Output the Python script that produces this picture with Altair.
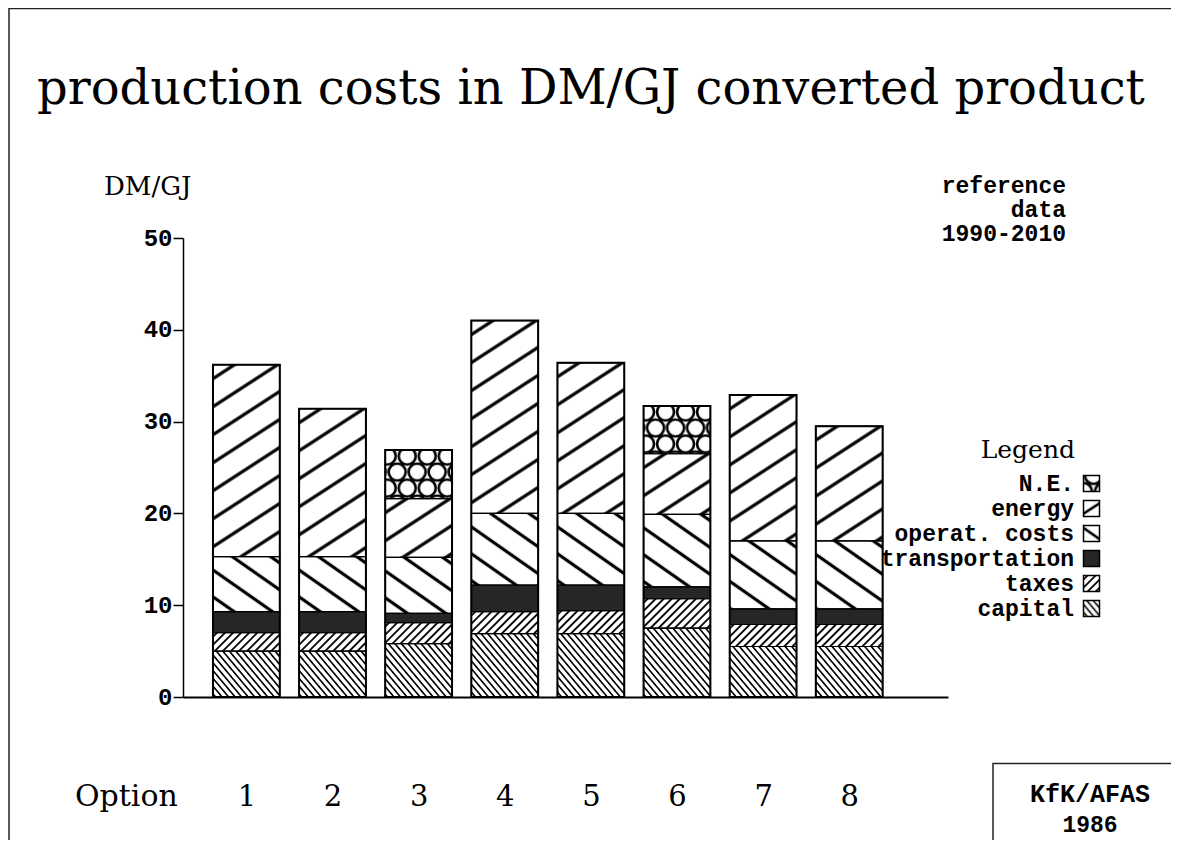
import math
import altair as alt
import pandas as pd
from urllib.parse import quote

# ---------------- data ----------------
options = [1, 2, 3, 4, 5, 6, 7, 8]
categories = ["capital", "taxes", "transportation", "operat. costs", "energy", "N.E."]
capital = [5.0, 5.0, 5.8, 6.9, 6.9, 7.5, 5.5, 5.5]
taxes = [2.0, 2.0, 2.3, 2.4, 2.5, 3.2, 2.4, 2.4]
transportation = [2.3, 2.3, 1.0, 2.9, 2.8, 1.3, 1.7, 1.7]
operat_costs = [6.0, 6.0, 6.1, 7.8, 7.8, 7.9, 7.4, 7.4]
energy = [20.9, 16.1, 6.4, 21.0, 16.4, 6.6, 15.9, 12.5]
ne = [0.0, 0.0, 5.3, 0.0, 0.0, 5.2, 0.0, 0.0]
y_ticks = [0, 10, 20, 30, 40, 50]

series = [capital, taxes, transportation, operat_costs, energy, ne]

rows = []
for i, opt in enumerate(options):
    for j, cat in enumerate(categories):
        rows.append({"option": opt, "category": cat, "order": j, "value": series[j][i]})
df = pd.DataFrame(rows)

# ---------------- hatch patterns (styles) ----------------
def hatch(angle, spacing, width, center=None):
    tf = f"rotate({angle})"
    if center is not None:
        a = math.radians(angle)
        ty = center - (spacing / 2 + center * math.sin(a)) / math.cos(a)
        tf = f"translate(0,{ty:.2f}) rotate({angle})"
    return (f'<pattern id="p" patternUnits="userSpaceOnUse" width="{spacing}" height="{spacing}" '
            f'patternTransform="{tf}"><rect x="0" y="{spacing/2 - width/2}" '
            f'width="{spacing}" height="{width}" fill="black"/></pattern>')

def circles(tx, ty):
    circ = "".join(
        f'<circle cx="{cx}" cy="{cy}" r="8.5" fill="none" stroke="black" stroke-width="2.6"/>'
        for cx, cy in [(0, 0), (20, 0), (0, 32), (20, 32), (10, 16)]
    )
    return (f'<pattern id="p" patternUnits="userSpaceOnUse" width="20" height="32" '
            f'patternTransform="translate({tx},{ty})">{circ}</pattern>')

def svg_url(pat, bg="white"):
    body = f'<rect width="100%" height="100%" fill="{bg}"/>'
    if pat:
        body += '<rect width="100%" height="100%" fill="url(#p)"/>'
    svg = (f'<svg xmlns="http://www.w3.org/2000/svg" width="100%" height="100%">'
           f'<defs>{pat}</defs>{body}</svg>')
    return "data:image/svg+xml;charset=utf-8," + quote(svg, safe="")

pattern_urls = {
    "capital": svg_url(hatch(50, 5.0, 1.6)),
    "taxes": svg_url(hatch(-45, 5.7, 1.8)),
    "transportation": svg_url("", "#262626"),
    "operat. costs": svg_url(hatch(35, 22, 3.2)),
    "energy": svg_url(hatch(-33, 23.5, 3.2)),
    "N.E.": svg_url(circles(2, 6)),
}
legend_urls = {
    "capital": svg_url(hatch(50, 5.0, 1.6)),
    "taxes": svg_url(hatch(-45, 5.7, 1.8)),
    "transportation": svg_url("", "#262626"),
    "operat. costs": svg_url(hatch(35, 22, 2.6, center=8)),
    "energy": svg_url(hatch(-33, 23.5, 2.6, center=8)),
    "N.E.": svg_url(circles(-10, 0)),
}
pattern_df = pd.DataFrame({"category": list(pattern_urls.keys()), "url": list(pattern_urls.values())})
legend_url_df = pd.DataFrame({"category": list(legend_urls.keys()), "url": list(legend_urls.values())})

# ---------------- scales / axes ----------------
XDOM = [0.264, 9.147]
HALF = 0.388

def X(field):
    return alt.X(field, scale=alt.Scale(domain=XDOM, nice=False, zero=False),
                 axis=alt.Axis(values=options, format="d", ticks=False, title=None, grid=False,
                               labelPadding=99, labelFontSize=29, labelFont="DejaVu Serif",
                               labelBaseline="middle", labelColor="black",
                               domainWidth=2, domainColor="black"))

def Y(field):
    return alt.Y(field, scale=alt.Scale(domain=[0, 50], nice=False),
                 axis=alt.Axis(values=y_ticks, title=None, grid=False, tickSize=10, tickWidth=1.5,
                               tickColor="black", domainColor="black", domainWidth=1.5,
                               labelFont="Liberation Mono", labelFontWeight="bold", labelFontSize=24,
                               labelPadding=1, labelColor="black"))

base = (alt.Chart(df)
        .transform_filter("datum.value > 0")
        .transform_stack(stack="value", groupby=["option"], as_=["y_lo", "y_hi"],
                         sort=[alt.SortField("order", "ascending")])
        .transform_calculate(x_lo=f"datum.option - {HALF}", x_hi=f"datum.option + {HALF}")
        .transform_lookup(lookup="category", from_=alt.LookupData(pattern_df, "category", ["url"])))

seg_white = base.mark_rect(fill="white").encode(x=X("x_lo:Q"), x2="x_hi:Q", y=Y("y_lo:Q"), y2="y_hi:Q")
seg_img = base.mark_image(aspect=False).encode(x=X("x_lo:Q"), x2="x_hi:Q", y=Y("y_lo:Q"), y2="y_hi:Q",
                                               url="url:N")
seg_line = base.mark_rect(fillOpacity=0, stroke="black", strokeWidth=1.2).encode(
    x=X("x_lo:Q"), x2="x_hi:Q", y=Y("y_lo:Q"), y2="y_hi:Q")

bar_outline = (alt.Chart(df)
               .transform_aggregate(total="sum(value)", groupby=["option"])
               .transform_calculate(x_lo=f"datum.option - {HALF}", x_hi=f"datum.option + {HALF}", zero="0")
               .mark_rect(fillOpacity=0, stroke="black", strokeWidth=2)
               .encode(x=X("x_lo:Q"), x2="x_hi:Q", y=Y("total:Q"), y2="zero:Q"))

main = alt.layer(seg_white, seg_img, seg_line, bar_outline)

# ---------------- legend ----------------
legend_order = list(reversed(categories))
leg_df = pd.DataFrame({"category": legend_order})
leg_base = alt.Chart(leg_df).transform_lookup(lookup="category",
                                              from_=alt.LookupData(legend_url_df, "category", ["url"]))
leg_y = alt.Y("category:N", scale=alt.Scale(type="point", domain=legend_order, range=[245.5, 370.5], padding=0),
              axis=None)
leg_img = leg_base.mark_image(width=16, height=16, aspect=False, align="center", baseline="middle").encode(
    x=alt.value(908.5), y=leg_y, url="url:N")
leg_box = leg_base.mark_point(shape="square", size=256, filled=False, stroke="black", strokeWidth=1.5,
                              opacity=1).encode(x=alt.value(908.5), y=leg_y)
leg_txt = leg_base.mark_text(align="right", baseline="middle", font="Liberation Mono", fontWeight="bold",
                             fontSize=23, color="black").encode(x=alt.value(891), y=leg_y, text="category:N")
legend = alt.layer(leg_img, leg_box, leg_txt)

# ---------------- decorations ----------------
def label(text, x, y, size, font, weight="normal", align="left"):
    return (alt.Chart(alt.Data(values=[{"t": text}]))
            .mark_text(align=align, baseline="middle", fontSize=size, font=font, fontWeight=weight,
                       color="black")
            .encode(x=alt.value(x), y=alt.value(y), text="t:N"))

def frame(x, x2, y, y2, w=1.5):
    # open frame: right and bottom edges fall outside the drawing and are not seen
    return (alt.Chart(alt.Data(values=[{"a": 0}]))
            .mark_rect(fillOpacity=0, stroke="#222222", strokeWidth=w)
            .encode(x=alt.value(x), x2=alt.value(x2), y=alt.value(y), y2=alt.value(y2)))

texts = [
    label("production costs in DM/GJ converted product", -146, -148.5, 48, "DejaVu Serif"),
    label("DM/GJ", -79, -51.5, 26, "DejaVu Serif"),
    label("reference", 883, -52, 23, "Liberation Mono", "bold", "right"),
    label("data", 883, -28, 23, "Liberation Mono", "bold", "right"),
    label("1990-2010", 883, -4, 23, "Liberation Mono", "bold", "right"),
    label("Legend", 892, 211.5, 25, "DejaVu Serif", "normal", "right"),
    label("Option", -108, 558.5, 30, "DejaVu Serif"),
    label("KfK/AFAS", 907, 556, 25, "Liberation Mono", "bold", "center"),
    label("1986", 907, 587, 23, "Liberation Mono", "bold", "center"),
]
frames = [
    frame(-174, 1040, -229.5, 720),
    frame(810, 1040, 525.5, 720),
]

chart = (alt.layer(main, legend, *texts, *frames)
         .resolve_scale(y="independent")
         .properties(width=765, height=459,
                     padding={"left": 175, "top": 230, "right": 223, "bottom": 143},
                     autosize=alt.AutoSizeParams(type="none"),
                     background="white")
         .configure_view(strokeWidth=0))

chart.save("out.html", embed_options={"renderer": "svg", "actions": False})
